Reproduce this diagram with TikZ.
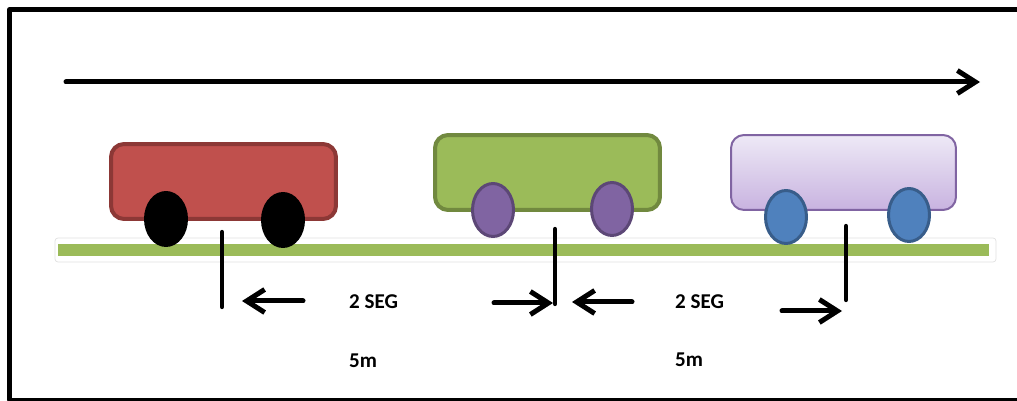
\documentclass[tikz,border=0pt]{standalone}
\usepackage{fontspec}
\setmainfont{Carlito}
\usepackage{xcolor}
\usepackage{tikz}
\usetikzlibrary{positioning,shapes.geometric,arrows.meta}

\definecolor{redfill}{HTML}{C0504D}
\definecolor{redline}{HTML}{8C3836}
\definecolor{greenfill}{HTML}{9BBB59}
\definecolor{greenline}{HTML}{71893F}
\definecolor{lavtop}{HTML}{EEE9F6}
\definecolor{lavbot}{HTML}{C8B3E0}
\definecolor{lavline}{HTML}{8064A2}
\definecolor{purplefill}{HTML}{8064A2}
\definecolor{purpleline}{HTML}{5C4776}
\definecolor{bluefill}{HTML}{4F81BD}
\definecolor{blueline}{HTML}{385D8A}

\begin{document}
\begin{tikzpicture}[%
    x=0.02cm,
    y=-0.02cm,
    >={Straight Barb[length=0.36cm,width=0.46cm]},
    line cap=round,
    line join=round,
    carbody/.style={%
      rectangle,
      rounded corners=0.26cm,
      minimum width=4.5cm,
      minimum height=1.5cm,
      line width=0.08cm
    },
    wheel/.style={%
      ellipse,
      minimum width=0.82cm,
      minimum height=1.06cm,
      line width=0.06cm
    },
    tick/.style={line width=0.085cm},
    move/.style={->, line width=0.1cm},
    tag/.style={font=\bfseries\fontsize{12}{14}\selectfont, inner sep=0pt}
  ]
    \useasboundingbox (0,0) rectangle (1017,401);

    % frame
    \draw[line width=0.09cm] (9.5,9.5) rectangle (1030,400);

    % direction of travel
    \coordinate (start) at (66,82);
    \coordinate (goal)  at (980,82);
    \draw[move] (start) -- (goal);

    % road
    \draw[draw=black!12, fill=white, rounded corners=0.06cm] (55,238) rectangle (996,262);
    \fill[greenfill] (58,244) rectangle (989,256);

    % cars
    \node[carbody, fill=redfill, draw=redline]     (red)    at (223.5,181.5) {};
    \node[carbody, fill=greenfill, draw=greenline] (green)  at (547.5,172.5) {};
    \node[carbody, top color=lavtop, bottom color=lavbot, draw=lavline,
          line width=0.04cm]                       (violet) at (843.5,172.5) {};

    \node[wheel, fill=black, draw=black]            (red1)    at (166,219) {};
    \node[wheel, fill=black, draw=black]            (red2)    at (283,220) {};
    \node[wheel, fill=purplefill, draw=purpleline]  (green1)  at (493,210) {};
    \node[wheel, fill=purplefill, draw=purpleline]  (green2)  at (612,209) {};
    \node[wheel, fill=bluefill, draw=blueline]      (violet1) at (786,217) {};
    \node[wheel, fill=bluefill, draw=blueline]      (violet2) at (909,215) {};

    % marks below the cars
    \coordinate (m1) at (222,232);  \coordinate (m1b) at (222,307);
    \coordinate (m2) at (555,229);  \coordinate (m2b) at (555,304);
    \coordinate (m3) at (846,226);  \coordinate (m3b) at (846,300);
    \draw[tick] (m1) -- (m1b);
    \draw[tick] (m2) -- (m2b);
    \draw[tick] (m3) -- (m3b);

    % gap arrows
    \coordinate (a1) at (303,301);  \coordinate (a1b) at (242,301);
    \coordinate (a2) at (494,303);  \coordinate (a2b) at (553,303);
    \coordinate (a3) at (632,302);  \coordinate (a3b) at (572,302);
    \coordinate (a4) at (782,311);  \coordinate (a4b) at (842,311);
    \draw[move] (a1) -- (a1b);
    \draw[move] (a2) -- (a2b);
    \draw[move] (a3) -- (a3b);
    \draw[move] (a4) -- (a4b);

    \node[tag] (time1) at (373.5,302) {2 SEG};
    \node[tag] (time2) at (699.5,302) {2 SEG};
    \node[tag] (dist1) at (363,361)   {5m};
    \node[tag] (dist2) at (689,360)   {5m};
  \end{tikzpicture}
\end{document}
